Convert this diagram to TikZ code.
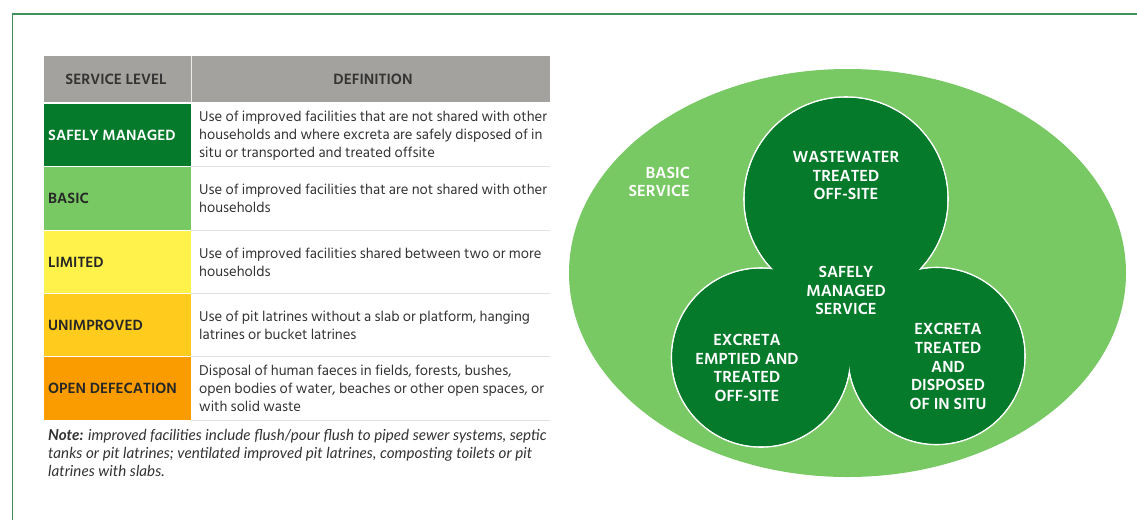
\documentclass[tikz,border=0pt]{standalone}
\usepackage{fontspec}
\usetikzlibrary{shapes.geometric}
\setmainfont{Hind Siliguri}
\newfontfamily\notefont{Lato}
\definecolor{dgreen}{HTML}{067A2B}
\definecolor{lgreen}{HTML}{78C864}
\definecolor{hgray}{HTML}{A3A29E}
\definecolor{lyellow}{HTML}{FFF24A}
\definecolor{uyellow}{HTML}{FFCB1C}
\definecolor{oorange}{HTML}{FA9C00}
\definecolor{frameg}{HTML}{3D9159}
\definecolor{txt}{HTML}{333333}
\tikzset{
  x=1pt,y=-1pt,
  lvl/.style={font=\fontsize{15.2}{16}\selectfont\bfseries,anchor=west,inner sep=0},
  defn/.style={font=\fontsize{14.6}{18}\selectfont,anchor=west,align=left,inner sep=0,text=txt},
  hd/.style={font=\fontsize{15.3}{15}\selectfont\bfseries,inner sep=0,text=black!80},
  cir/.style={circle,inner sep=0,outer sep=0,fill=dgreen},
  ring/.style={circle,inner sep=0,outer sep=0,draw=white,line width=1.6pt,fill=dgreen},
  big/.style={font=\fontsize{16.5}{18.7}\selectfont\bfseries,align=center,text=white,inner sep=0},
}
\begin{document}
\begin{tikzpicture}
\useasboundingbox (0,0) rectangle (1137,520);
% frame
\coordinate (fa) at (12.5,520); \coordinate (fb) at (12.5,14); \coordinate (fc) at (1137,14);
\draw[frameg,line width=1.4pt] (fa) -- (fb) -- (fc);
% table
\fill[hgray] (44,56) rectangle (550,102);
\draw[white!80!hgray,line width=.8pt] (191,56) -- (191,102);
\fill[dgreen] (44,104) rectangle (191,166);
\fill[lgreen] (44,167) rectangle (191,230);
\fill[lyellow] (44,231) rectangle (191,293);
\fill[uyellow] (44,294) rectangle (191,356);
\fill[oorange] (44,357) rectangle (191,420);
\foreach \yy in {166.5,230.5,293.5,356.5,420.5}{\draw[black!12,line width=.8pt] (191,\yy) -- (550,\yy);}
\node[hd] (h1) at (116,79) {SERVICE LEVEL};
\node[hd] (h2) at (373,79) {DEFINITION};
\node[lvl,text=white] (l1) at (48,135.5) {SAFELY MANAGED};
\node[lvl,text=black!85] (l2) at (48,198.5) {BASIC};
\node[lvl,text=black!85] (l3) at (48,262) {LIMITED};
\node[lvl,text=black!85] (l4) at (48,325.5) {UNIMPROVED};
\node[lvl,text=black!85] (l5) at (48,388.5) {OPEN DEFECATION};
\node[defn] (d1) at (199,135.5) {Use of improved facilities that are not shared with other\\households and where excreta are safely disposed of in\\situ or transported and treated offsite};
\node[defn] (d2) at (199,198.5) {Use of improved facilities that are not shared with other\\households};
\node[defn] (d3) at (199,262) {Use of improved facilities shared between two or more\\households};
\node[defn] (d4) at (199,325.5) {Use of pit latrines without a slab or platform, hanging\\latrines or bucket latrines};
\node[defn] (d5) at (199,388.5) {Disposal of human faeces in fields, forests, bushes,\\open bodies of water, beaches or other open spaces, or\\with solid waste};
\node[defn,font=\notefont\fontsize{15.2}{18}\selectfont\itshape] (nt) at (48,452.5) {\textbf{Note:} improved facilities include flush/pour flush to piped sewer systems, septic\\tanks or pit latrines; ventilated improved pit latrines, composting toilets or pit\\latrines with slabs.};
% diagram
\node[ellipse,fill=lgreen,inner sep=0,outer sep=0,minimum width=557pt,minimum height=408pt] (el) at (847.5,273) {};
\node[ring,minimum size=204pt] (r1) at (846,199) {};
\node[ring,minimum size=179pt] (r2) at (761,357.5) {};
\node[ring,minimum size=177pt] (r3) at (936.5,356) {};
\node[cir,minimum size=202.4pt] (c1) at (846,199) {};
\node[cir,minimum size=177.4pt] (c2) at (761,357.5) {};
\node[cir,minimum size=175.4pt] (c3) at (936.5,356) {};
\fill[dgreen] (772,270) -- (920,268) -- (848,367) -- cycle;
\node[big,align=right,anchor=east] (t0) at (690,182) {BASIC\\SERVICE};
\node[big] (t1) at (846,175.5) {WASTEWATER\\TREATED\\OFF-SITE};
\node[big] (t2) at (846,290.5) {SAFELY\\MANAGED\\SERVICE};
\node[big] (t3) at (747,368) {EXCRETA\\EMPTIED AND\\TREATED\\OFF-SITE};
\node[big] (t4) at (948,366.5) {EXCRETA\\TREATED\\AND\\DISPOSED\\OF IN SITU};
\end{tikzpicture}
\end{document}
